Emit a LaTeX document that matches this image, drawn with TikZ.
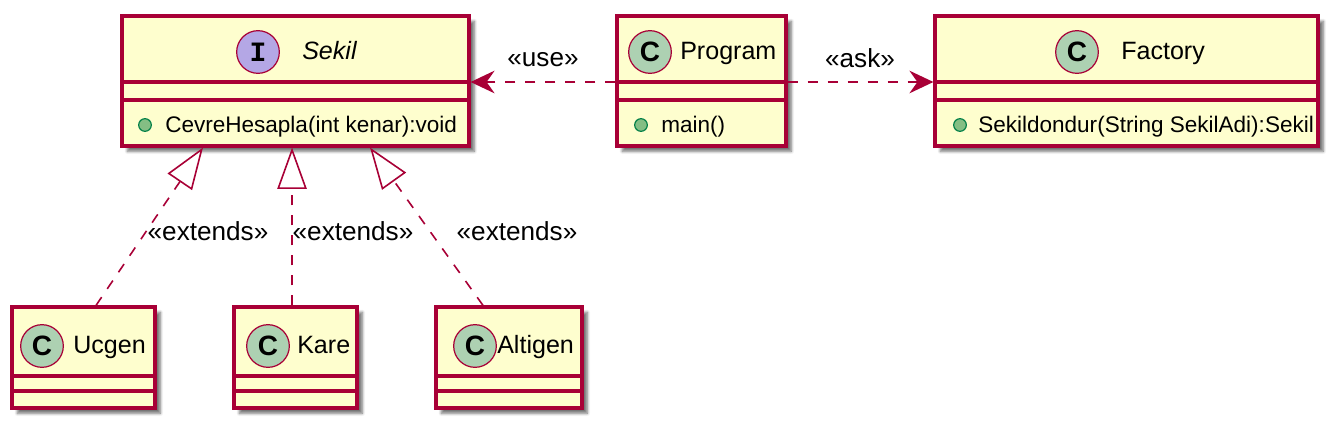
\documentclass[tikz,border=0pt]{standalone}
\usepackage{fontspec}
\setmainfont{Liberation Sans}
\newfontfamily\spotmono{Liberation Mono}
\usetikzlibrary{arrows.meta,shadows.blur}
\definecolor{umlfill}{HTML}{FEFECE}
\definecolor{umlborder}{HTML}{A80036}
\definecolor{classspot}{HTML}{ADD1B2}
\definecolor{ifacespot}{HTML}{B4A7E5}
\definecolor{pubfill}{HTML}{84BE84}
\definecolor{pubborder}{HTML}{038048}

\tikzset{
  classbox/.style={draw=umlborder, fill=umlfill, line width=2.4pt, rectangle, inner sep=0pt,
    blur shadow={shadow xshift=4pt, shadow yshift=-4pt, shadow blur steps=6, shadow opacity=55}},
  sepline/.style={draw=umlborder, line width=2.4pt},
  spot/.style={draw=umlborder, line width=0.9pt, circle, minimum size=32pt, inner sep=0pt},
  pubdot/.style={draw=pubborder, fill=pubfill, line width=0.9pt, circle, minimum size=9.5pt, inner sep=0pt},
  txt/.style={inner sep=0pt, anchor=base west},
  namefont/.style={font=\fontsize{18.8pt}{18.8pt}\selectfont},
  membfont/.style={font=\fontsize{16.9pt}{16.9pt}\selectfont},
  lbl/.style={inner sep=0pt, font=\fontsize{19.6pt}{19.6pt}\selectfont},
  dep/.style={draw=umlborder, line width=1.2pt, dash pattern=on 7.5pt off 7.5pt,
    -{Stealth[length=18pt, width=17pt, inset=6pt]}},
  ext/.style={draw=umlborder, line width=1.2pt, dash pattern=on 7.5pt off 7.5pt,
    -{Triangle[open, length=31pt, width=22pt, fill=white]}},
}

\begin{document}
\begin{tikzpicture}[x=0.75pt, y=-0.75pt]
\useasboundingbox (0,0) rectangle (1339,429);
% interface Sekil
\node[classbox, minimum width=260.25pt, minimum height=97.5pt] (sekil) at (295.5,81) {};
\draw[sepline] (sekil.west |- 0,82) -- (sekil.east |- 0,82);
\draw[sepline] (sekil.west |- 0,100) -- (sekil.east |- 0,100);
\node[spot, fill=ifacespot] (sekilspot) at (258,52) {\fontsize{21pt}{21pt}\spotmono\bfseries I};
\node[txt, namefont] (sekilname) at (302,59) {\itshape Sekil};
\node[pubdot] (sekildot) at (145,125) {};
\node[txt, membfont] (sekilop) at (165,132) {CevreHesapla(int kenar):void};
% Program
\node[classbox, minimum width=126.75pt, minimum height=97.5pt] (program) at (701.5,81) {};
\draw[sepline] (program.west |- 0,82) -- (program.east |- 0,82);
\draw[sepline] (program.west |- 0,100) -- (program.east |- 0,100);
\node[spot, fill=classspot] (programspot) at (650,52) {\fontsize{21pt}{21pt}\selectfont\bfseries C};
\node[txt, namefont] (programname) at (680,59) {Program};
\node[pubdot] (programdot) at (641,125) {};
\node[txt, membfont] (programop) at (661,132) {main()};
% Factory
\node[classbox, minimum width=287.25pt, minimum height=97.5pt] (factory) at (1126.5,81) {};
\draw[sepline] (factory.west |- 0,82) -- (factory.east |- 0,82);
\draw[sepline] (factory.west |- 0,100) -- (factory.east |- 0,100);
\node[spot, fill=classspot] (factoryspot) at (1077,52) {\fontsize{21pt}{21pt}\selectfont\bfseries C};
\node[txt, namefont] (factoryname) at (1121,59) {Factory};
\node[pubdot] (factorydot) at (960,125) {};
\node[txt, membfont] (factoryop) at (978,132) {Sekildondur(String SekilAdi):Sekil};
% subclasses
\node[classbox, minimum width=107.25pt, minimum height=75.75pt] (ucgen) at (83.5,357.5) {};
\draw[sepline] (ucgen.west |- 0,376) -- (ucgen.east |- 0,376);
\draw[sepline] (ucgen.west |- 0,391) -- (ucgen.east |- 0,391);
\node[spot, fill=classspot] (ucgenspot) at (42,346) {\fontsize{21pt}{21pt}\selectfont\bfseries C};
\node[txt, namefont] (ucgenname) at (73,353) {Ucgen};
\node[classbox, minimum width=92.25pt, minimum height=75.75pt] (kare) at (295.5,357.5) {};
\draw[sepline] (kare.west |- 0,376) -- (kare.east |- 0,376);
\draw[sepline] (kare.west |- 0,391) -- (kare.east |- 0,391);
\node[spot, fill=classspot] (karespot) at (268,346) {\fontsize{21pt}{21pt}\selectfont\bfseries C};
\node[txt, namefont] (karename) at (297,353) {Kare};
\node[classbox, minimum width=109.5pt, minimum height=75.75pt] (altigen) at (509,357.5) {};
\draw[sepline] (altigen.west |- 0,376) -- (altigen.east |- 0,376);
\draw[sepline] (altigen.west |- 0,391) -- (altigen.east |- 0,391);
\node[spot, fill=classspot] (altigenspot) at (475,346) {\fontsize{21pt}{21pt}\selectfont\bfseries C};
\node[txt, namefont] (altigenname) at (497,353) {Altigen};
% dependencies
\draw[dep] (program.west |- 0,82) -- (sekil.east |- 0,82);
\node[lbl] (uselbl) at (543,60) {«use»};
\draw[dep] (program.east |- 0,82) -- (factory.west |- 0,82);
\node[lbl] (asklbl) at (860,58) {«ask»};
% realizations
\draw[ext] ([xshift=9.4pt]ucgen.north) -- ([xshift=-69.4pt]sekil.south);
\draw[ext] ([xshift=-2.6pt]kare.north) -- ([xshift=-2.6pt]sekil.south);
\draw[ext] ([xshift=-19.5pt]altigen.north) -- ([xshift=55.9pt]sekil.south);
\node[lbl] (extlbla) at (208,231) {«extends»};
\node[lbl] (extlblb) at (353,231) {«extends»};
\node[lbl] (extlblc) at (517,231) {«extends»};
\end{tikzpicture}
\end{document}
